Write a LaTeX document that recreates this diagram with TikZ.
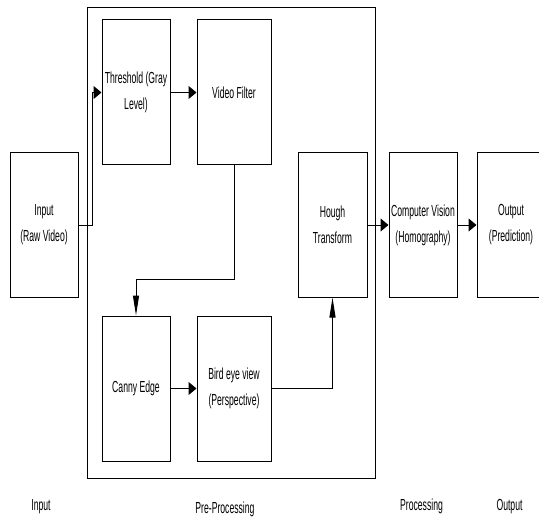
\documentclass[tikz,border=0pt]{standalone}
\usepackage{fontspec}
\setmainfont[FakeStretch=0.54]{Liberation Sans}
\usetikzlibrary{arrows.meta, positioning}

\begin{document}
\begin{tikzpicture}[x=1pt, y=-1pt,
  font=\fontsize{16pt}{26pt}\selectfont,
  box/.style={draw, line width=1pt, inner sep=1pt, align=center,
    minimum width=68pt, minimum height=144pt},
  harrow/.style={-{Triangle[length=8pt,width=13pt]}, line width=1pt},
  varrow/.style={-{Triangle[length=20pt,width=6pt]}, line width=1pt},
  stage/.style={anchor=base}]

  \clip (0,0) rectangle (539,519);

% define the frame round the pre-processing steps
  \draw[line width=1pt] (87,8) rectangle (375,478);

% define the blocks
  \node[box]    (inp)   at (44,225)
{Input\\(Raw Video)};
  \node[box, minimum height=145pt]    (thr)   at (136,92.5)
{Threshold (Gray\\Level)};
  \node[box, minimum height=145pt, minimum width=74pt]    (vf)   [right=26pt of thr]
{Video Filter};
  \node[box, minimum height=145pt]    (can)   [below=150pt of thr]
{Canny Edge};
  \node[box, minimum height=145pt, minimum width=74pt]    (bird)   [right=26pt of can]
{Bird eye view\\(Perspective)};
  \node[box, minimum width=69pt]    (hough)   at (332.5,225)
{Hough\\Transform};
  \node[box]    (cv)   [right=21pt of hough]
{Computer Vision\\(Homography)};
  \node[box]    (out)   [right=19pt of cv]
{Output\\(Prediction)};

% define the links
  \path[harrow] (thr) edge (vf)
        (can) edge (bird)
        (hough) edge (cv)
        (cv) edge (out);
  \draw[harrow] (inp.east) -- ++(14,0) |- (thr.west);
  \draw[varrow] (vf.south) -- ++(0,114) -| (can.north);
  \draw[varrow] (bird.east) -| (hough.south);

% define the stage names
  \node[stage]   (linp)   at (41,510.5)   {Input};
  \node[stage]   (lpre)   at (225,513)   {Pre-Processing};
  \node[stage]   (lproc)   at (421.5,510)   {Processing};
  \node[stage]   (lout)   at (509.5,510)   {Output};

\end{tikzpicture}
\end{document}
